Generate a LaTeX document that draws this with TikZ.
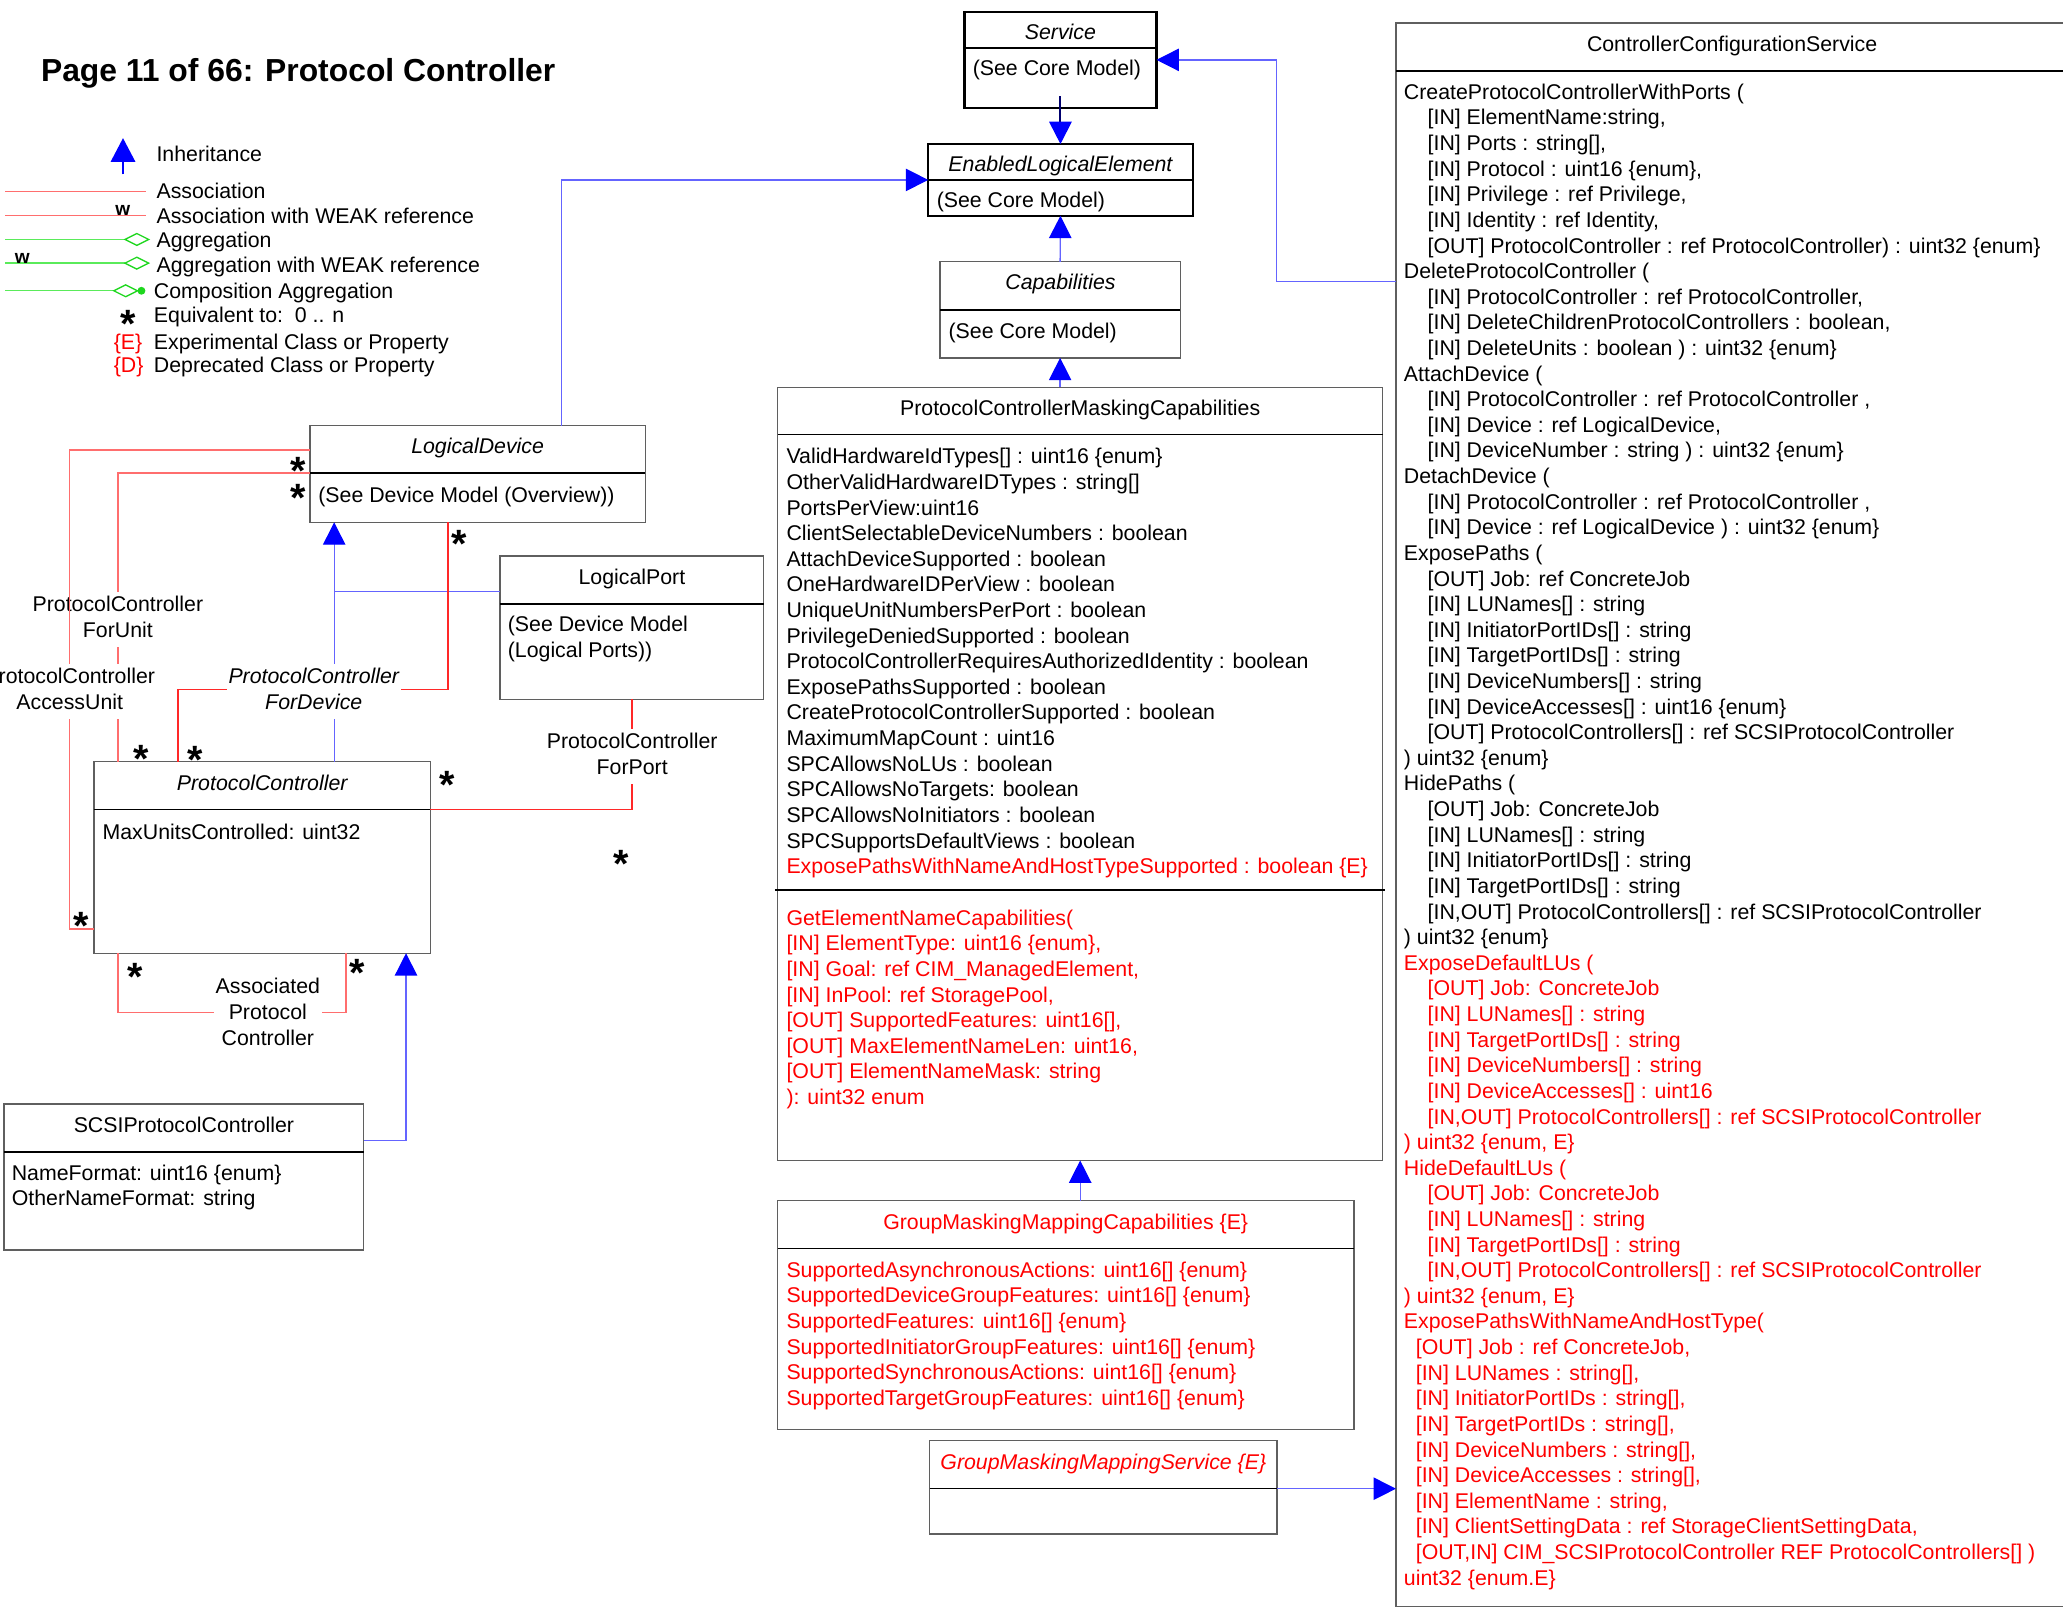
\documentclass[tikz,border=0pt]{standalone}
\usepackage{fontspec}
\setmainfont{Liberation Sans}
\usetikzlibrary{arrows.meta,calc}
\definecolor{inhblue}{RGB}{100,100,255}
\definecolor{tipblue}{RGB}{0,0,255}
\definecolor{assocred}{RGB}{255,110,110}
\definecolor{assocdark}{RGB}{255,40,40}
\definecolor{legred}{RGB}{255,110,110}
\definecolor{leggreen}{RGB}{90,235,90}
\definecolor{diagreen}{RGB}{30,215,30}
\definecolor{boxgray}{RGB}{95,95,95}
\definecolor{navytwo}{RGB}{0,0,110}
\definecolor{txtred}{RGB}{255,0,0}
\tikzset{
  t/.style={font=\fontsize{16.2}{19.47}\selectfont, inner sep=0pt, outer sep=0pt},
  it/.style={font=\fontsize{16.2}{19.47}\selectfont\itshape},
  tl/.style={t, anchor=base west},
  tc/.style={t, anchor=base},
  ubox/.style={draw=boxgray, line width=1pt, inner sep=0pt, outer sep=0pt, anchor=north west},
  tbox/.style={draw=black, line width=1.8pt},
  divider/.style={draw=black, line width=1pt},
  inh/.style={draw=inhblue, line width=1pt, -{Triangle[width=17pt,length=17pt,color=tipblue]}},
  inhline/.style={draw=inhblue, line width=1pt},
  assoc/.style={draw=assocred, line width=1pt},
  assocd/.style={draw=assocdark, line width=1pt},
  lbl/.style={tc, fill=white, inner sep=1.5pt},
  mstar/.style={font=\fontsize{30}{30}\selectfont\bfseries, inner sep=0pt, anchor=base},
  wlab/.style={font=\fontsize{14.5}{14.5}\selectfont\bfseries, inner sep=0pt, anchor=base},
}
\newcommand\ind{\hspace*{18pt}}
\newcommand\inb{\hspace*{9pt}}
\newcommand\mst{\raisebox{-0.57em}{*}}
\newcommand\ubox[7][]{%
  \pgfmathsetmacro\bw{#5-#3}%
  \pgfmathsetmacro\bh{#6-#4}%
  \node[ubox,#1,minimum width=\bw pt,minimum height=\bh pt] (#2) at (#3,#4) {};
  \draw[divider,#1] (#2.west |- 0,#7) -- (#2.east |- 0,#7);
}
\begin{document}
\begin{tikzpicture}[x=1pt,y=-1pt]
\useasboundingbox (0,0) rectangle (1568,1223);
\fill[white] (0,0) rectangle (1568,1223);
\clip (0,0) rectangle (1568,1223);

% ---------- title ----------
\node[anchor=base west, inner sep=0pt, font=\fontsize{24.2}{29}\selectfont\bfseries] (title) at (31,62) {Page 11 of 66: Protocol Controller};

% ---------- legend ----------
\draw[draw=tipblue, line width=1.2pt, -{Triangle[width=18.6pt,length=18pt,color=tipblue]}] (93.5,132.5) -- (93.5,105);
\node[tl] (lgInh) at (119,123) {Inheritance};
\draw[draw=legred, line width=1pt] (4,145.5) -- (111,145.5);
\node[tl] (lgAs) at (119,151) {Association};
\draw[draw=legred, line width=1pt] (4,164) -- (111,164);
\node[wlab] (lgW1) at (93.3,164) {w};
\node[tl] (lgAsW) at (119,169.5) {Association with WEAK reference};
\draw[draw=leggreen, line width=1pt] (4,182) -- (95,182);
\draw[draw=diagreen, line width=1pt] (95,182) -- (104,177.5) -- (113,182) -- (104,186.5) -- cycle;
\node[tl] (lgAg) at (119,188) {Aggregation};
\draw[draw=leggreen, line width=1pt] (4,200) -- (95,200);
\draw[draw=diagreen, line width=1pt] (95,200) -- (104,195.5) -- (113,200) -- (104,204.5) -- cycle;
\node[wlab] (lgW2) at (17,200.5) {w};
\node[tl] (lgAgW) at (119,207) {Aggregation with WEAK reference};
\draw[draw=leggreen, line width=1pt] (4,221) -- (86.5,221);
\draw[draw=diagreen, line width=1pt] (86.5,221) -- (95.5,216.5) -- (104.5,221) -- (95.5,225.5) -- cycle;
\fill[diagreen] (107.5,221) circle (3);
\node[tl] (lgComp) at (117,226.5) {Composition Aggregation};
\node[mstar] (lgStar) at (97.7,239.5) {\mst};
\node[tl] (lgEq) at (117,245) {Equivalent to:\ \ 0 .. n};
\node[tl, text=txtred] (lgE) at (86.5,265.5) {\{E\}};
\node[tl] (lgExp) at (117,265.5) {Experimental Class or Property};
\node[tl, text=txtred] (lgD) at (86.5,283) {\{D\}};
\node[tl] (lgDep) at (117,283) {Deprecated Class or Property};

% ---------- boxes ----------
\ubox[tbox]{SVC}{733}{9}{879}{82}{36.5}
\ubox[tbox]{ELE}{705.5}{109.5}{906.5}{164}{137}
\ubox{CAP}{714.5}{199}{897}{272}{235.5}
\ubox{PCMC}{591}{294.5}{1051}{882}{330.5}
\ubox{GMMC}{591}{912.5}{1029}{1086.5}{949}
\ubox{GMMS}{706.5}{1095}{970.5}{1166}{1131.5}
\ubox{CCS}{1061}{17.5}{1572}{1221}{54}
\ubox{LD}{235.5}{323.5}{490.5}{397}{359.5}
\ubox{LP}{380}{422.5}{580.5}{531.5}{459}
\ubox{PC}{71.5}{579}{327}{724.5}{615.5}
\ubox{SPC}{3}{839}{276.5}{950}{875.5}
\draw[draw=black, line width=2pt] ($(PCMC.west |- 0,676.5)+(-2,0)$) -- ($(PCMC.east |- 0,676.5)+(2,0)$);

% ---------- box texts ----------
\node[tc,it] (tSVC) at (806,30) {Service};
\node[tl] (bSVC) at (739.4,57.5) {(See Core Model)};
\node[tc,it] (tELE) at (806,130.6) {EnabledLogicalElement};
\node[tl] (bELE) at (712,158) {(See Core Model)};
\node[tc,it] (tCAP) at (806,220) {Capabilities};
\node[tl] (bCAP) at (721,257.6) {(See Core Model)};

\node[tc] (tPCMC) at (821,316) {ProtocolControllerMaskingCapabilities};
\node[tl] (aPCMC) at (597.8,352.5) {\begin{tabular}[t]{@{}l@{}}
ValidHardwareIdTypes[] : uint16 \{enum\}\\
OtherValidHardwareIDTypes : string[]\\
PortsPerView:uint16\\
ClientSelectableDeviceNumbers : boolean\\
AttachDeviceSupported : boolean\\
OneHardwareIDPerView : boolean\\
UniqueUnitNumbersPerPort : boolean\\
PrivilegeDeniedSupported : boolean\\
ProtocolControllerRequiresAuthorizedIdentity : boolean\\
ExposePathsSupported : boolean\\
CreateProtocolControllerSupported : boolean\\
MaximumMapCount : uint16\\
SPCAllowsNoLUs : boolean\\
SPCAllowsNoTargets: boolean\\
SPCAllowsNoInitiators : boolean\\
SPCSupportsDefaultViews : boolean\\
\color{txtred}ExposePathsWithNameAndHostTypeSupported : boolean \{E\}
\end{tabular}};
\node[tl, text=txtred] (mPCMC) at (597.8,703.2) {\begin{tabular}[t]{@{}l@{}}
GetElementNameCapabilities(\\
{}[IN] ElementType: uint16 \{enum\},\\
{}[IN] Goal: ref CIM\_ManagedElement,\\
{}[IN] InPool: ref StoragePool,\\
{}[OUT] SupportedFeatures: uint16[],\\
{}[OUT] MaxElementNameLen: uint16,\\
{}[OUT] ElementNameMask: string\\
): uint32 enum
\end{tabular}};

\node[tc, text=txtred] (tGMMC) at (810,934.5) {GroupMaskingMappingCapabilities \{E\}};
\node[tl, text=txtred] (aGMMC) at (597.8,970.8) {\begin{tabular}[t]{@{}l@{}}
SupportedAsynchronousActions: uint16[] \{enum\}\\
SupportedDeviceGroupFeatures: uint16[] \{enum\}\\
SupportedFeatures: uint16[] \{enum\}\\
SupportedInitiatorGroupFeatures: uint16[] \{enum\}\\
SupportedSynchronousActions: uint16[] \{enum\}\\
SupportedTargetGroupFeatures: uint16[] \{enum\}
\end{tabular}};

\node[tc, it, text=txtred] (tGMMS) at (838.6,1117) {GroupMaskingMappingService \{E\}};

\node[tc] (tCCS) at (1316.5,39) {ControllerConfigurationService};
\node[tl] (mCCS) at (1067.1,75.5) {\begin{tabular}[t]{@{}l@{}}
CreateProtocolControllerWithPorts (\\
\ind[IN] ElementName:string,\\
\ind[IN] Ports : string[],\\
\ind[IN] Protocol : uint16 \{enum\},\\
\ind[IN] Privilege : ref Privilege,\\
\ind[IN] Identity : ref Identity,\\
\ind[OUT] ProtocolController : ref ProtocolController) : uint32 \{enum\}\\
DeleteProtocolController (\\
\ind[IN] ProtocolController : ref ProtocolController,\\
\ind[IN] DeleteChildrenProtocolControllers : boolean,\\
\ind[IN] DeleteUnits : boolean ) : uint32 \{enum\}\\
AttachDevice (\\
\ind[IN] ProtocolController : ref ProtocolController ,\\
\ind[IN] Device : ref LogicalDevice,\\
\ind[IN] DeviceNumber : string ) : uint32 \{enum\}\\
DetachDevice (\\
\ind[IN] ProtocolController : ref ProtocolController ,\\
\ind[IN] Device : ref LogicalDevice ) : uint32 \{enum\}\\
ExposePaths (\\
\ind[OUT] Job: ref ConcreteJob\\
\ind[IN] LUNames[] : string\\
\ind[IN] InitiatorPortIDs[] : string\\
\ind[IN] TargetPortIDs[] : string\\
\ind[IN] DeviceNumbers[] : string\\
\ind[IN] DeviceAccesses[] : uint16 \{enum\}\\
\ind[OUT] ProtocolControllers[] : ref SCSIProtocolController\\
) uint32 \{enum\}\\
HidePaths (\\
\ind[OUT] Job: ConcreteJob\\
\ind[IN] LUNames[] : string\\
\ind[IN] InitiatorPortIDs[] : string\\
\ind[IN] TargetPortIDs[] : string\\
\ind[IN,OUT] ProtocolControllers[] : ref SCSIProtocolController\\
) uint32 \{enum\}
\end{tabular}};
\node[tl, text=txtred] (rCCS) at (1067.1,737.5) {\begin{tabular}[t]{@{}l@{}}
ExposeDefaultLUs (\\
\ind[OUT] Job: ConcreteJob\\
\ind[IN] LUNames[] : string\\
\ind[IN] TargetPortIDs[] : string\\
\ind[IN] DeviceNumbers[] : string\\
\ind[IN] DeviceAccesses[] : uint16\\
\ind[IN,OUT] ProtocolControllers[] : ref SCSIProtocolController\\
) uint32 \{enum, E\}\\
HideDefaultLUs (\\
\ind[OUT] Job: ConcreteJob\\
\ind[IN] LUNames[] : string\\
\ind[IN] TargetPortIDs[] : string\\
\ind[IN,OUT] ProtocolControllers[] : ref SCSIProtocolController\\
) uint32 \{enum, E\}\\
ExposePathsWithNameAndHostType(\\
\inb[OUT] Job : ref ConcreteJob,\\
\inb[IN] LUNames : string[],\\
\inb[IN] InitiatorPortIDs : string[],\\
\inb[IN] TargetPortIDs : string[],\\
\inb[IN] DeviceNumbers : string[],\\
\inb[IN] DeviceAccesses : string[],\\
\inb[IN] ElementName : string,\\
\inb[IN] ClientSettingData : ref StorageClientSettingData,\\
\inb[OUT,IN] CIM\_SCSIProtocolController REF ProtocolControllers[] )\\
uint32 \{enum.E\}
\end{tabular}};

\node[tc,it] (tLD) at (363,345) {LogicalDevice};
\node[tl] (bLD) at (242,382) {(See Device Model (Overview))};
\node[tc] (tLP) at (480.3,444) {LogicalPort};
\node[tl] (bLP) at (386,480) {\begin{tabular}[t]{@{}l@{}}(See Device Model\\(Logical Ports))\end{tabular}};
\node[tc,it] (tPC) at (199.3,601) {ProtocolController};
\node[tl] (bPC) at (78,638) {MaxUnitsControlled: uint32};
\node[tc] (tSPC) at (139.8,860.5) {SCSIProtocolController};
\node[tl] (bSPC) at (9,897) {\begin{tabular}[t]{@{}l@{}}NameFormat: uint16 \{enum\}\\OtherNameFormat: string\end{tabular}};

% ---------- inheritance ----------
\draw[inh] (LD.north -| 427,0) |- (ELE.west);
\draw[inh, draw=navytwo, line width=1.5pt] (SVC.south |- 0,73) -- (ELE.north);
\draw[inh] (CAP.north) -- (ELE.south);
\draw[inh] (CAP.south |- PCMC.north) -- (CAP.south);
\draw[inh] (PCMC.south |- GMMC.north) -- (PCMC.south);
\draw[inh] (CCS.west |- 0,214) -- (970,214) |- (SVC.east);
\draw[inh] (GMMS.east |- 0,1131.5) -- (CCS.west |- 0,1131.5);
\draw[inh] (PC.north -| 254,0) -- (LD.south -| 254,0);
\draw[inhline] (LP.west |- 0,449.5) -- (254,449.5);
\draw[inh] (SPC.east |- 0,867) -| (PC.south -| 308.6,0);

% ---------- associations ----------
\draw[assoc] (LD.west |- 0,359.5) -- (89.6,359.5) -- (PC.north -| 89.6,0);
\node[lbl] (lForUnit) at (89.6,464.8) {\begin{tabular}[t]{@{}c@{}}ProtocolController\\ForUnit\end{tabular}};
\draw[assoc] (LD.west |- 0,342) -- (53,342) -- (53,706) -- (PC.west |- 0,706);
\node[lbl] (lAccess) at (53,519.8) {\begin{tabular}[t]{@{}c@{}}ProtocolController\\AccessUnit\end{tabular}};
\draw[assocd] (LD.south -| 340.5,0) -- (340.5,524) -- (135.3,524) -- (PC.north -| 135.3,0);
\node[lbl,it] (lForDev) at (238.5,519.8) {\begin{tabular}[t]{@{}c@{}}ProtocolController\\ForDevice\end{tabular}};
\draw[assocd] (LP.south) -- (LP.south |- 0,615.5) -- (PC.east |- 0,615.5);
\node[lbl] (lForPort) at (480.5,569) {\begin{tabular}[t]{@{}c@{}}ProtocolController\\ForPort\end{tabular}};
\draw[assoc] (PC.south -| 89.6,0) -- (89.6,769.5) -- (263,769.5) -- (PC.south -| 263,0);
\node[lbl] (lAssoc) at (203.6,755.4) {\begin{tabular}[t]{@{}c@{}}Associated\\Protocol\\Controller\end{tabular}};

% ---------- multiplicities ----------
\node[mstar] (s1) at (226.5,351.5) {\mst};
\node[mstar] (s2) at (226.5,371.5) {\mst};
\node[mstar] (s3) at (349,407) {\mst};
\node[mstar] (s4) at (107.4,570.3) {\mst};
\node[mstar] (s5) at (148,570.8) {\mst};
\node[mstar] (s6) at (62,696.6) {\mst};
\node[mstar] (s7) at (340,589.8) {\mst};
\node[mstar] (s8) at (472,649.5) {\mst};
\node[mstar] (s9) at (102.8,735.9) {\mst};
\node[mstar] (s10) at (271.4,732.7) {\mst};
\end{tikzpicture}
\end{document}
